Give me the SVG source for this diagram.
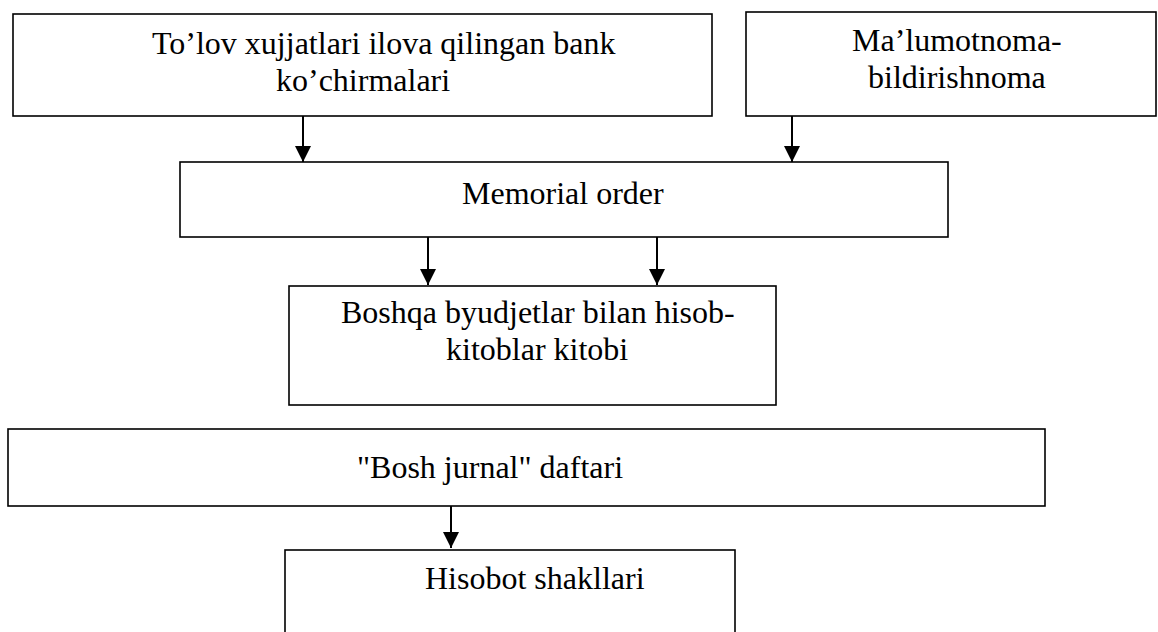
<svg xmlns="http://www.w3.org/2000/svg" width="1158" height="632" viewBox="0 0 1158 632">
<style>
.box{fill:#fff;stroke:#000;stroke-width:1.6}
.t{font-family:"Liberation Serif","Times New Roman",serif;font-size:32px;fill:#000}
.c{stroke:#000;stroke-width:2;fill:none}
</style>
<defs>
<marker id="ah" markerUnits="userSpaceOnUse" markerWidth="16" markerHeight="16" refX="15" refY="7.5" orient="auto" viewBox="0 0 15 15">
<path d="M0,0 L15,7.5 L0,15 Z" fill="#000"/>
</marker>
</defs>
<rect width="1158" height="632" fill="#fff"/>
<g id="n1">
<rect class="box" x="13" y="14" width="699" height="102"/>
<text class="t" x="152" y="54">To’lov xujjatlari ilova qilingan bank</text>
<text class="t" x="276" y="91">ko’chirmalari</text>
</g>
<g id="n2">
<rect class="box" x="746" y="12" width="410" height="104"/>
<text class="t" x="852" y="51">Ma’lumotnoma-</text>
<text class="t" x="868" y="88">bildirishnoma</text>
</g>
<g id="n3">
<rect class="box" x="180" y="162" width="768" height="75"/>
<text class="t" x="462" y="204">Memorial order</text>
</g>
<g id="n4">
<rect class="box" x="289" y="286" width="487" height="119"/>
<text class="t" x="341" y="323">Boshqa byudjetlar bilan hisob-</text>
<text class="t" x="446" y="360">kitoblar kitobi</text>
</g>
<g id="n5">
<rect class="box" x="8" y="429" width="1037" height="77"/>
<text class="t" x="357" y="478">"Bosh jurnal" daftari</text>
</g>
<g id="n6">
<rect class="box" x="285" y="550" width="450" height="90"/>
<text class="t" x="425" y="589">Hisobot shakllari</text>
</g>
<g id="connectors">
<line class="c" x1="303" y1="116" x2="303" y2="162" marker-end="url(#ah)"/>
<line class="c" x1="792" y1="116" x2="792" y2="162" marker-end="url(#ah)"/>
<line class="c" x1="428" y1="237" x2="428" y2="285" marker-end="url(#ah)"/>
<line class="c" x1="657" y1="237" x2="657" y2="285" marker-end="url(#ah)"/>
<line class="c" x1="451" y1="506" x2="451" y2="548" marker-end="url(#ah)"/>
</g>
</svg>
